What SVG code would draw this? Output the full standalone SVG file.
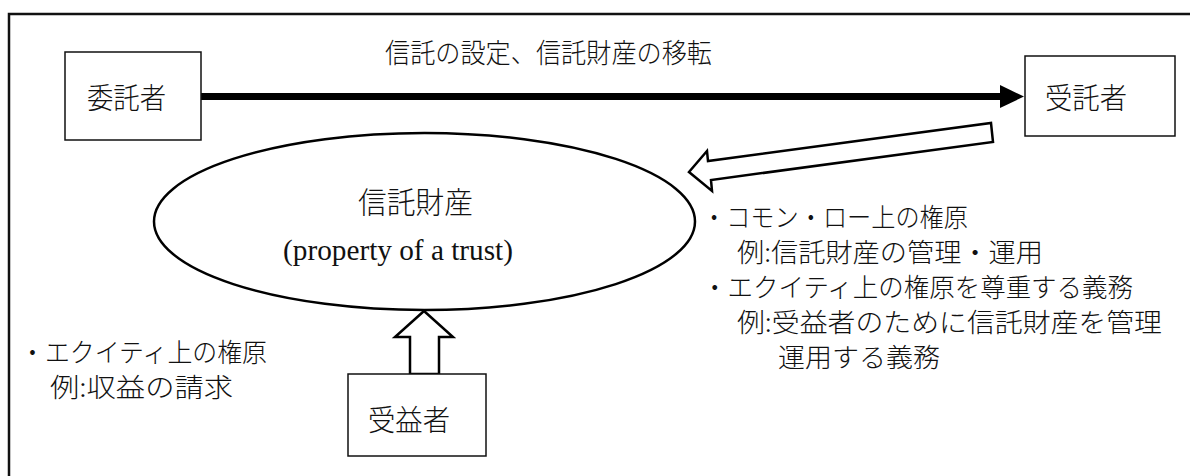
<svg xmlns="http://www.w3.org/2000/svg" width="1190" height="476" viewBox="0 0 1190 476">
<style>
.jp{font-family:"Noto Sans CJK JP","Noto Sans CJK SC",sans-serif;font-weight:300;fill:#111}
.en{font-family:"Liberation Serif",serif;fill:#111}
.box{fill:#fff;stroke:#111;stroke-width:1.5}
.hollow{fill:#fff;stroke:#000;stroke-width:2.5;stroke-linejoin:miter}
</style>
<rect width="1190" height="476" fill="#fff"/>
<rect id="frame" x="9" y="14" width="1200" height="500" fill="none" stroke="#111" stroke-width="2.5"/>

<g id="connectors">
  <line x1="201" y1="96.5" x2="1002" y2="96.5" stroke="#000" stroke-width="7"/>
  <polygon points="1000,85 1024,96.5 1000,108" fill="#000"/>
  <polygon class="hollow" points="689,172 707,151 708,161 991,123 993,142 711,180 712,191"/>
  <polygon class="hollow" points="424,311 453,337 439,337 439,374 410,374 410,337 395,337"/>
  <text class="jp" x="385" y="63" font-size="27" textLength="327" lengthAdjust="spacingAndGlyphs">信託の設定、信託財産の移転</text>
</g>

<g id="settlor">
  <rect class="box" x="65" y="52" width="136" height="88"/>
  <text class="jp" x="87" y="109" font-size="29" textLength="79" lengthAdjust="spacingAndGlyphs">委託者</text>
</g>

<g id="trustee">
  <rect class="box" x="1025" y="56" width="150" height="80"/>
  <text class="jp" x="1045" y="109" font-size="29" textLength="82" lengthAdjust="spacingAndGlyphs">受託者</text>
</g>

<g id="trust-property">
  <ellipse cx="424.5" cy="221.5" rx="270.5" ry="88.5" fill="#fff" stroke="#000" stroke-width="2.5"/>
  <text class="jp" x="358" y="213" font-size="30" textLength="115" lengthAdjust="spacingAndGlyphs">信託財産</text>
  <text class="en" x="283" y="260" font-size="29" textLength="230" lengthAdjust="spacingAndGlyphs">(property of a trust)</text>
</g>

<g id="beneficiary">
  <rect class="box" x="348" y="374" width="138" height="82"/>
  <text class="jp" x="368" y="431" font-size="29" textLength="82" lengthAdjust="spacingAndGlyphs">受益者</text>
</g>

<g id="trustee-notes">
  <text class="jp" x="702" y="227" font-size="26" textLength="266" lengthAdjust="spacingAndGlyphs">・コモン・ロー上の権原</text>
  <text class="jp" x="737" y="262" font-size="26" textLength="306" lengthAdjust="spacingAndGlyphs">例:信託財産の管理・運用</text>
  <text class="jp" x="702" y="297" font-size="26" textLength="431" lengthAdjust="spacingAndGlyphs">・エクイティ上の権原を尊重する義務</text>
  <text class="jp" x="737" y="332" font-size="26" textLength="425" lengthAdjust="spacingAndGlyphs">例:受益者のために信託財産を管理</text>
  <text class="jp" x="778" y="367" font-size="26" textLength="162" lengthAdjust="spacingAndGlyphs">運用する義務</text>
</g>

<g id="beneficiary-notes">
  <text class="jp" x="20" y="362" font-size="26" textLength="247" lengthAdjust="spacingAndGlyphs">・エクイティ上の権原</text>
  <text class="jp" x="50" y="397" font-size="26" textLength="183" lengthAdjust="spacingAndGlyphs">例:収益の請求</text>
</g>
</svg>
